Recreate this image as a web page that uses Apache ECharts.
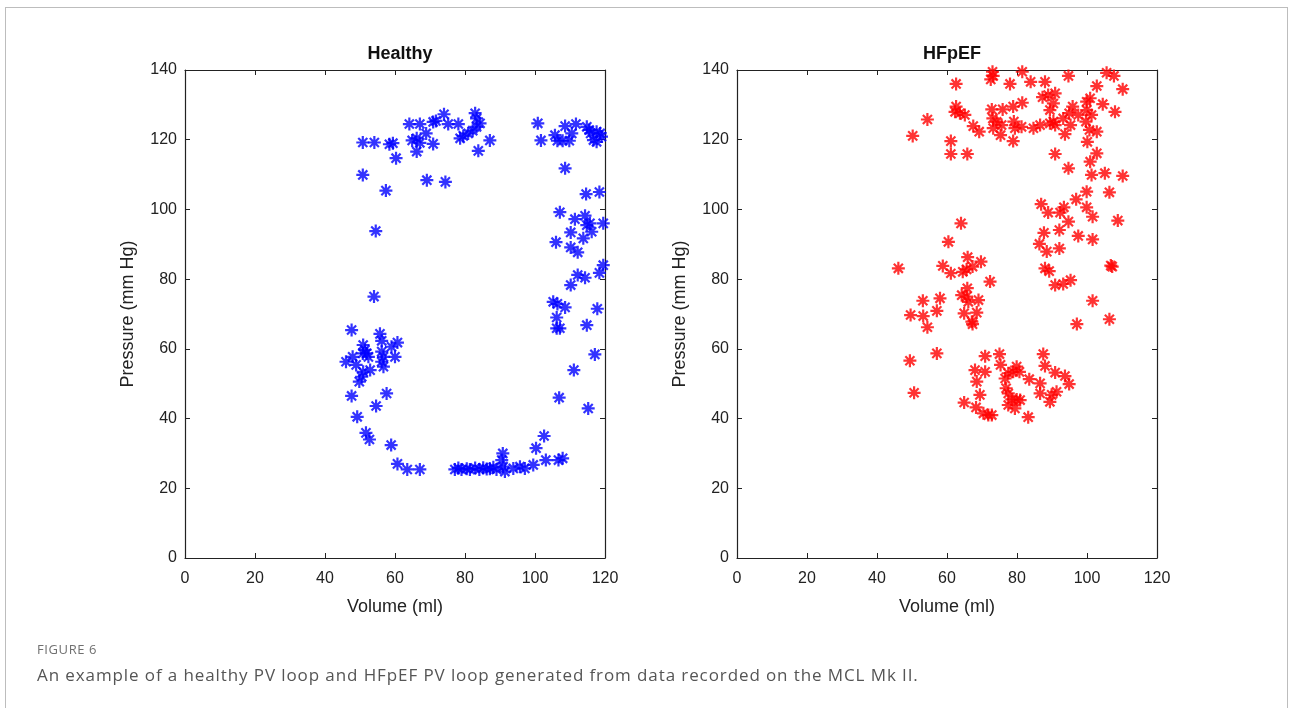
<!DOCTYPE html>
<html>
<head>
<meta charset="utf-8">
<script src="https://cdn.jsdelivr.net/npm/echarts@6/dist/echarts.min.js"></script>
<style>
  html, body { margin: 0; padding: 0; background: #fff; }
  #frame { position: absolute; left: 5px; top: 7px; width: 1283px; height: 740px; border: 1px solid #bdbdbd; box-sizing: border-box; }
  #chart { position: absolute; left: 0; top: 0; width: 1290px; height: 708px; }
  .cap-label { position: absolute; left: 37px; top: 640px; font-family: "Open Sans", sans-serif; font-size: 13px; color: #707070; letter-spacing: 0.6px; }
  .cap-text { position: absolute; left: 37px; top: 663px; font-family: "Open Sans", sans-serif; font-size: 17px; color: #555; letter-spacing: 0.9px; }
</style>
</head>
<body>
<div id="frame"></div>
<div id="chart"></div>
<div class="cap-label">FIGURE 6</div>
<div class="cap-text">An example of a healthy PV loop and HFpEF PV loop generated from data recorded on the MCL Mk II.</div>
<script>
// panel titles and axis names
const panelTitles = ['Healthy', 'HFpEF']
const xName = 'Volume (ml)'
const yName = 'Pressure (mm Hg)'

// [volume (ml), pressure (mm Hg)]
const healthyPoints = [
  [50.8,119.2],[54.1,119.2],[58.4,118.7],[59.4,119.0],[60.3,114.7],[50.8,109.9],[57.4,105.4],
  [64.1,124.5],[67.1,124.5],[64.9,119.8],[66.2,120.4],[67.1,119.1],[68.9,121.8],[66.2,116.6],
  [70.9,118.8],[70.9,125.1],[71.7,125.4],[74.0,127.3],[75.2,124.5],[78.1,124.5],[69.1,108.4],
  [74.4,107.9],[78.6,120.4],[79.5,121.1],[80.9,121.8],[82.2,122.6],[83.3,123.7],[82.9,127.6],
  [83.3,126.1],[84.3,124.7],[83.8,116.8],[87.1,119.8],
  [100.8,124.7],[101.7,119.8],[105.7,121.3],[106.4,119.7],[107.9,119.7],[108.6,123.9],[109.8,119.7],
  [110.5,121.8],[111.7,124.5],[114.8,123.7],[115.5,122.8],[115.9,121.8],[116.7,119.9],[117.6,119.4],
  [118.6,121.8],[119.0,120.9],[117.6,122.3],[108.6,111.8],[114.6,104.4],[118.4,105.0],
  [107.1,99.2],[111.4,97.2],[114.3,98.2],[114.8,95.5],[115.7,96.0],[116.2,93.6],[119.5,96.0],
  [110.2,93.4],[113.8,91.7],[106.0,90.6],[110.2,89.1],[112.2,87.7],[119.5,84.0],[118.4,81.8],
  [112.2,81.2],[114.3,80.4],[110.2,78.3],[105.2,73.5],[106.4,72.9],[108.6,71.9],[117.8,71.5],
  [106.2,69.0],[106.2,65.9],[107.1,65.9],[114.8,66.8],[117.1,58.4],[111.1,53.9],[106.9,46.0],[115.2,42.9],
  [54.5,93.8],[54.0,75.0],[47.6,65.4],[55.7,64.3],[56.2,62.3],[60.7,61.8],[59.0,60.6],[50.9,61.1],
  [51.4,59.7],[51.9,58.7],[50.8,58.7],[52.4,57.7],[47.9,57.7],[46.0,56.3],[48.9,55.4],[56.2,59.2],
  [56.7,57.7],[56.2,56.3],[56.7,54.9],[60.0,57.7],[52.9,53.9],[50.9,53.4],[50.5,52.0],[49.8,50.6],
  [57.6,47.2],[47.6,46.5],[54.6,43.6],[49.2,40.5],[51.7,35.9],[52.7,34.0],[58.9,32.4],[60.7,27.0],
  [63.5,25.4],[67.1,25.4],
  [77.1,25.4],[78.1,25.8],[79.0,25.4],[80.5,25.6],[81.4,25.4],[82.9,25.8],[84.1,25.4],[85.2,25.9],
  [86.2,25.5],[87.1,25.6],[88.1,26.0],[89.0,25.4],[90.8,30.0],[90.5,28.1],[90.9,26.2],[91.4,24.8],
  [93.8,25.7],[95.7,26.2],[97.1,25.7],[99.5,26.7],[100.3,31.5],[102.6,35.0],[103.1,28.1],[106.7,28.1],[107.9,28.6]
]

const hfpefPoints = [
  [73.0,139.5],[73.2,138.3],[72.5,137.3],[81.5,139.5],[83.9,136.6],[88.0,136.6],[94.7,138.3],
  [105.6,139.2],[107.7,138.3],[78.0,136.0],[62.6,136.0],[102.8,135.4],[110.2,134.5],[54.4,125.8],
  [50.2,121.1],[62.6,129.5],[62.3,128.0],[63.7,127.6],[65.1,127.1],[61.1,119.6],[61.1,115.9],
  [65.8,115.9],[67.5,123.9],[69.2,122.3],[72.8,128.7],[75.9,128.7],[73.1,126.1],[74.2,125.1],
  [73.2,123.3],[75.6,124.2],[75.3,121.3],[78.9,129.5],[81.5,130.6],[79.1,125.2],[79.4,123.3],
  [81.3,123.7],[78.9,119.6],[84.7,123.3],[86.6,124.2],[89.4,124.7],[90.9,124.2],[90.4,125.2],
  [87.3,132.2],[88.9,132.8],[90.9,133.3],[90.4,130.4],[89.4,128.5],[93.2,126.1],[94.9,127.6],
  [95.9,129.5],[97.5,127.1],[99.9,130.9],[100.9,131.9],[99.9,128.5],[101.3,127.1],[99.7,125.2],
  [104.5,130.2],[108.0,128.0],[93.7,121.6],[95.3,124.2],[100.7,122.8],[102.8,122.3],[100.1,119.4],
  [90.9,115.9],[102.8,116.1],[100.9,113.7],[94.7,111.8],[101.3,109.9],[105.1,110.4],[110.2,109.6],
  [99.9,105.1],[106.4,104.9],[96.9,102.9],[86.9,101.5],[88.9,99.1],[92.3,99.1],[93.4,100.6],
  [99.9,100.6],[101.6,97.9],[94.7,96.5],[108.8,96.8],[92.1,94.1],[87.7,93.3],[97.5,92.4],
  [101.6,91.4],[86.4,90.1],[88.5,87.9],[92.1,88.8],[88.0,83.1],[89.2,82.3],[106.8,83.9],[107.2,83.6],
  [90.9,78.3],[93.2,78.6],[95.3,79.7],[101.6,73.8],[97.1,67.1],[106.4,68.5],
  [64.0,96.0],[60.4,90.7],[46.1,83.1],[58.8,83.8],[65.9,86.3],[61.1,81.7],[64.5,82.1],[65.6,82.8],
  [67.3,83.6],[69.7,85.0],[72.3,79.3],[65.8,77.4],[64.2,75.4],[65.6,75.0],[66.1,73.5],[69.0,74.0],
  [68.5,70.4],[67.1,67.8],[67.3,67.1],[64.9,70.2],[53.1,73.8],[58.0,74.5],[57.1,70.9],[49.6,69.7],
  [53.2,69.4],[54.4,66.2],
  [49.4,56.6],[57.1,58.7],[50.6,47.4],[70.9,57.9],[75.0,58.5],[75.3,55.4],[68.0,53.9],[70.9,53.4],
  [68.5,50.6],[79.9,54.9],[78.9,53.4],[80.7,53.4],[76.6,51.5],[77.5,53.0],[83.5,51.3],[86.6,50.1],
  [87.5,58.5],[88.0,55.1],[90.9,53.2],[93.7,52.2],[94.9,49.9],[76.9,48.7],[77.5,47.2],[78.5,45.5],
  [79.9,45.5],[80.9,45.3],[77.5,43.9],[79.4,42.9],[86.6,47.2],[89.9,46.8],[91.3,47.7],[89.4,44.8],
  [69.4,46.8],[64.9,44.6],[68.3,43.2],[70.4,41.5],[71.8,41.0],[72.8,41.0],[83.2,40.4]
]

const chart = echarts.init(document.getElementById('chart'))

const font = '"Liberation Sans", Arial, sans-serif'
// matlab style '*' marker
const star = 'path://M0,-10L0,10M-10,0L10,0M-7,-7L7,7M-7,7L7,-7'

const gridLefts = [185, 737]
const grids = gridLefts.map(l => ({ left: l, top: 70, width: 420, height: 488, show: false }))

const tick = { show: true, inside: true, length: 5, lineStyle: { color: '#222', width: 1 } }
const line = { show: true, onZero: false, lineStyle: { color: '#222', width: 1.2 } }

const xAxes = []
const yAxes = []
gridLefts.forEach((l, i) => {
  xAxes.push({
    type: 'value', gridIndex: i, min: 0, max: 120, interval: 20,
    name: xName, nameLocation: 'middle', nameGap: 40,
    nameTextStyle: { fontFamily: font, fontSize: 18, color: '#222' },
    axisLine: line, axisTick: tick, splitLine: { show: false },
    axisLabel: { fontFamily: font, fontSize: 16, color: '#222', margin: 13 }
  })
  xAxes.push({
    type: 'value', gridIndex: i, min: 0, max: 120, interval: 20, position: 'top',
    axisLine: line, axisTick: tick, splitLine: { show: false }, axisLabel: { show: false }
  })
  yAxes.push({
    type: 'value', gridIndex: i, min: 0, max: 140, interval: 20,
    name: yName, nameLocation: 'middle', nameGap: 48,
    nameTextStyle: { fontFamily: font, fontSize: 18, color: '#222' },
    axisLine: line, axisTick: tick, splitLine: { show: false },
    axisLabel: { fontFamily: font, fontSize: 16, color: '#222', margin: 8, padding: [4, 0, 0, 0] }
  })
  yAxes.push({
    type: 'value', gridIndex: i, min: 0, max: 140, interval: 20, position: 'right',
    axisLine: line, axisTick: tick, splitLine: { show: false }, axisLabel: { show: false }
  })
})

const seriesStyle = (color) => ({
  color: color, borderColor: color, borderWidth: 2.2
})

const options = {
  animation: false,
  title: panelTitles.map((t, i) => ({
    text: t, left: gridLefts[i] + 210, top: 40, textAlign: 'center',
    textStyle: { fontFamily: font, fontSize: 18, fontWeight: 'bold', color: '#111' }
  })),
  grid: grids,
  xAxis: xAxes,
  yAxis: yAxes,
  series: [
    {
      name: panelTitles[0], type: 'scatter', xAxisIndex: 0, yAxisIndex: 0,
      symbol: star, symbolSize: 13, clip: false,
      itemStyle: seriesStyle('#0000ff'), data: healthyPoints
    },
    {
      name: panelTitles[1], type: 'scatter', xAxisIndex: 2, yAxisIndex: 2,
      symbol: star, symbolSize: 13, clip: false,
      itemStyle: seriesStyle('#ff0000'), data: hfpefPoints
    }
  ]
}

chart.setOption(options)
</script>
</body>
</html>
